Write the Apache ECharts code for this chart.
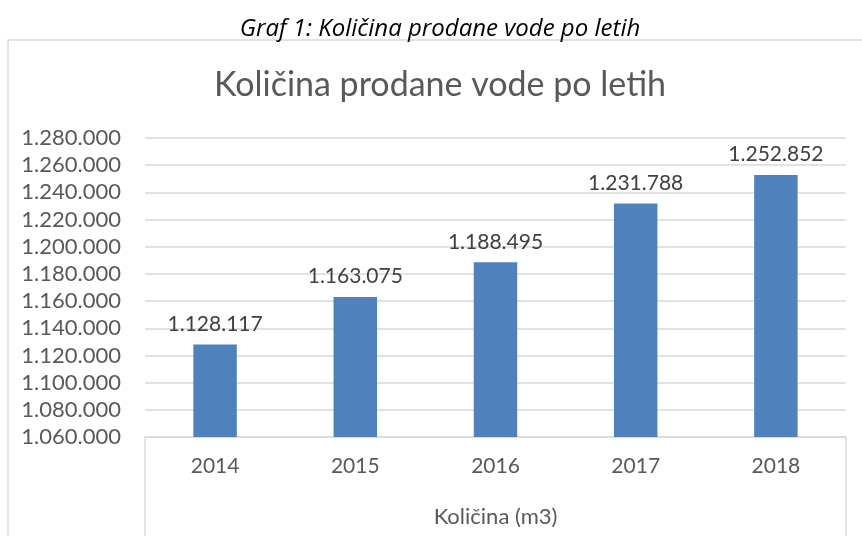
<!DOCTYPE html>
<html>
<head>
<meta charset="utf-8">
<script src="https://cdn.jsdelivr.net/npm/echarts@6/dist/echarts.min.js"></script>
<style>
  html, body { margin: 0; padding: 0; background: #fff; }
  #chart { width: 862px; height: 536px; }
</style>
</head>
<body>
<div id="chart"></div>
<script>
// podatki
var years = ['2014', '2015', '2016', '2017', '2018'];
var kolicina = [1128117, 1163075, 1188495, 1231788, 1252852];
var groupLabel = ['Količina (m3)'];
var yMin = 1060000, yMax = 1280000, yStep = 20000;

function fmt(v) {
  return String(Math.round(v)).replace(/\B(?=(\d{3})+(?!\d))/g, '.');
}

var chart = echarts.init(document.getElementById('chart'));
var font = 'Lato, "Open Sans", sans-serif';

var option = {
  animation: false,
  textStyle: { fontFamily: font },
  graphic: [
    {
      type: 'rect',
      shape: { x: 8, y: 40, width: 870, height: 520 },
      style: { fill: 'none', stroke: '#d9d9d9', lineWidth: 1.5 }
    },
    // naslov slike
    {
      type: 'text', x: 440, y: 29,
      style: {
        text: 'Graf 1: Količina prodane vode po letih',
        font: 'italic 24px "Open Sans", sans-serif',
        fill: '#000', align: 'center', verticalAlign: 'middle'
      }
    },
    // naslov grafa
    {
      type: 'text', x: 440, y: 85,
      style: {
        text: 'Količina prodane vode po letih',
        font: '34px Lato, sans-serif',
        fill: '#595959', align: 'center', verticalAlign: 'middle'
      }
    }
  ],
  grid: { left: 145, right: 16, top: 138, bottom: 99 },
  xAxis: [
    {
      type: 'category',
      data: years,
      axisLine: { lineStyle: { color: '#d9d9d9', width: 1.5 } },
      axisTick: { show: false },
      axisLabel: { fontSize: 21, color: '#595959', margin: 19 }
    },
    {
      type: 'category',
      position: 'bottom',
      data: groupLabel,
      axisLine: { show: false },
      axisTick: { show: true, length: 100, lineStyle: { color: '#d9d9d9', width: 1.5 } },
      axisLabel: { fontSize: 22, color: '#595959', margin: 69 }
    }
  ],
  yAxis: {
    type: 'value',
    min: yMin, max: yMax, interval: yStep,
    axisLine: { show: false },
    axisTick: { show: false },
    splitLine: { lineStyle: { color: '#d9d9d9', width: 1.5 } },
    axisLabel: { fontSize: 22, color: '#595959', margin: 24, formatter: fmt }
  },
  series: [
    {
      type: 'bar',
      data: kolicina,
      barWidth: '31%',
      itemStyle: { color: '#4f81bd' },
      label: {
        show: true, position: 'top', distance: 10,
        fontSize: 21, color: '#404040',
        formatter: function (p) { return fmt(p.value); }
      }
    }
  ]
};

chart.setOption(option);
</script>
</body>
</html>
